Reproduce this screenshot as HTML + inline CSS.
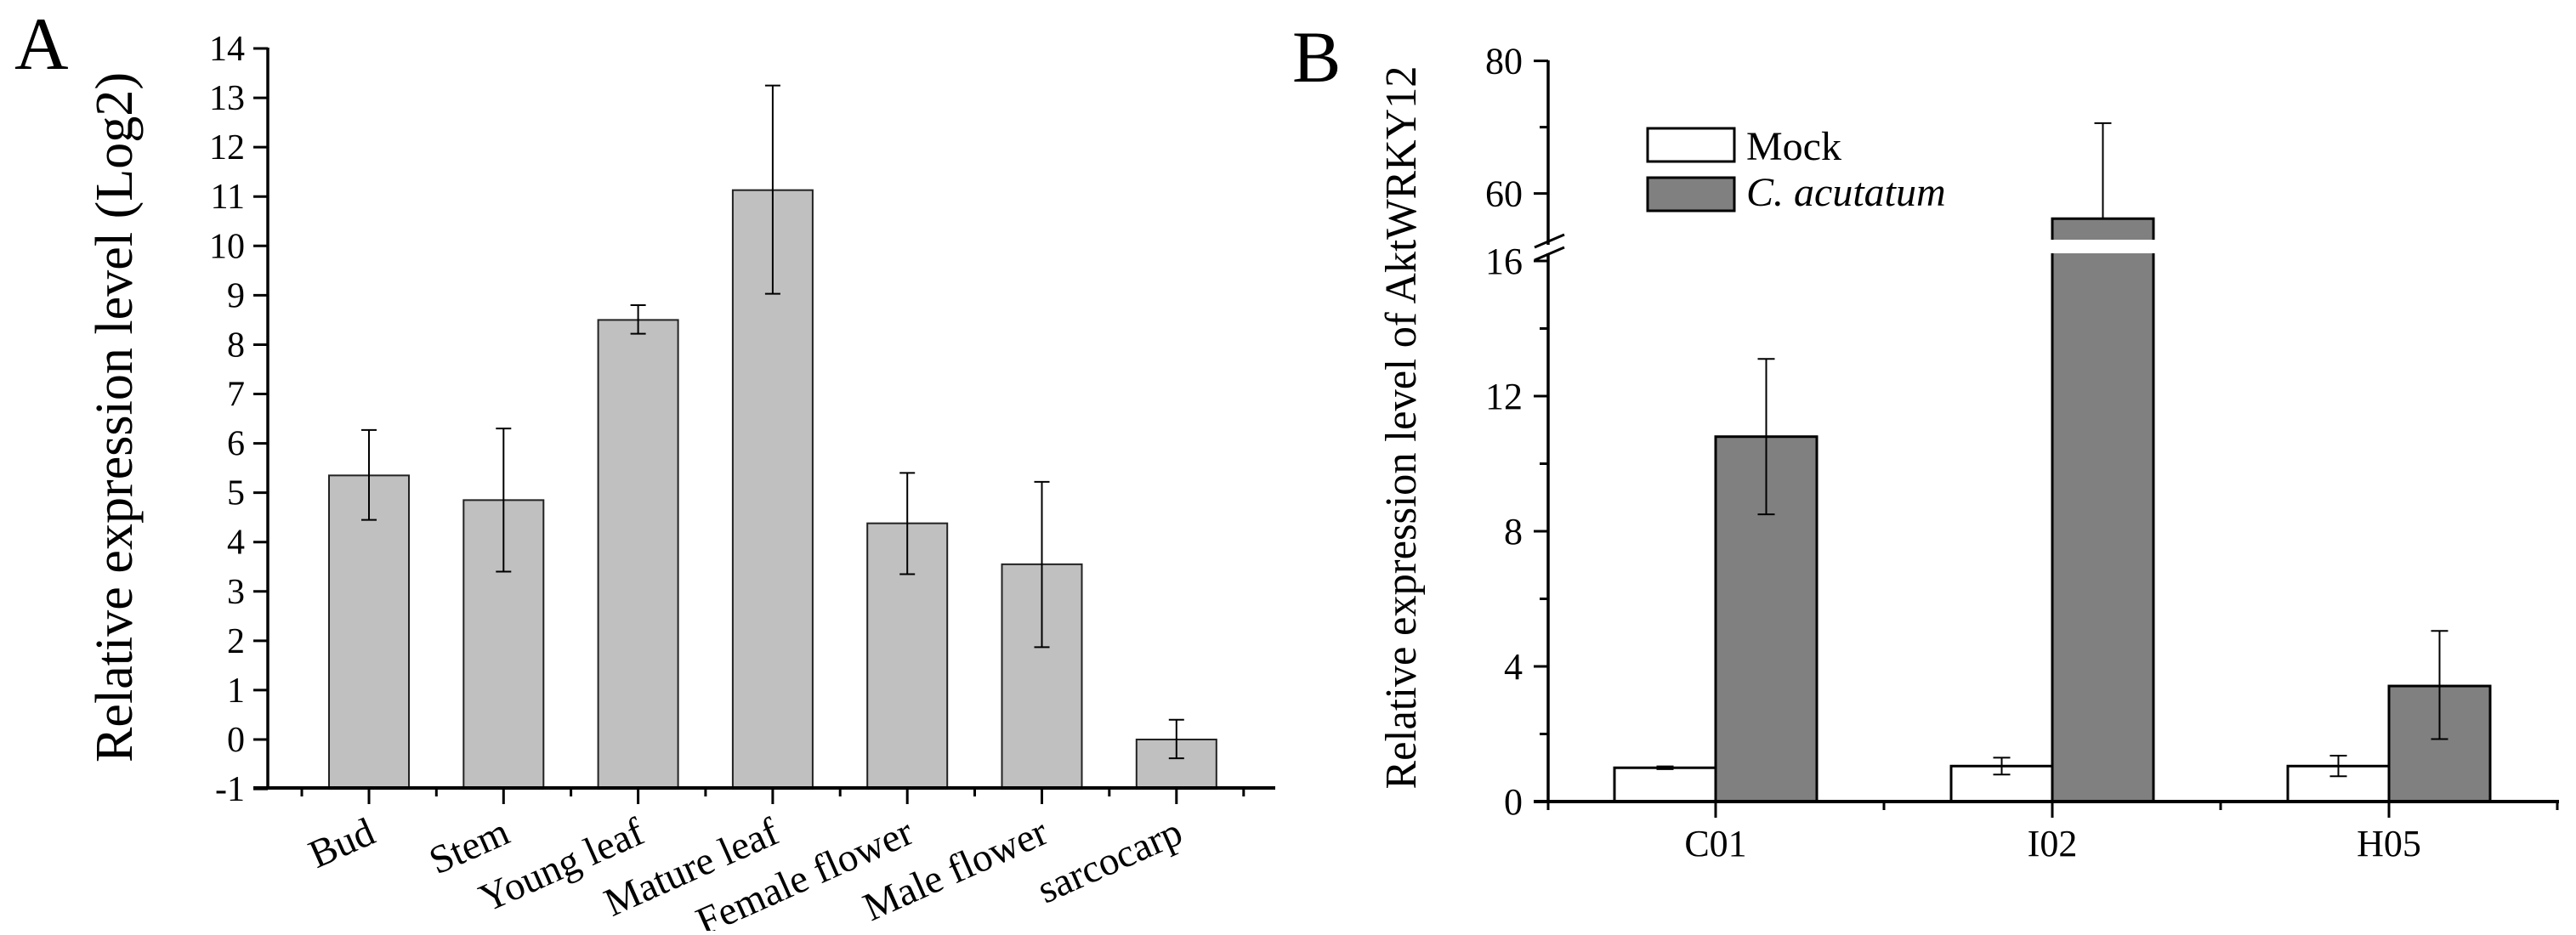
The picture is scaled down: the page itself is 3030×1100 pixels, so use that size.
<!DOCTYPE html>
<html><head><meta charset="utf-8"><style>
html,body{margin:0;padding:0;background:#fff;}
svg, svg text{font-family:"Liberation Serif","Times New Roman",serif !important;}
</style></head><body>
<svg id="fig" width="3030" height="1095" viewBox="0 0 3030 1095" font-family="Liberation Serif, serif">
<rect width="3030" height="1095" fill="#fff"/>
<g id="panelA"></g>
<g id="panelB"></g>
</svg>
<script>
// Panel A data
const catsA = ["Bud","Stem","Young leaf","Mature leaf","Female flower","Male flower","sarcocarp"];
const valsA = [5.35,4.85,8.5,11.13,4.38,3.55,0];
const errLoA = [4.45,3.4,8.22,9.03,3.35,1.87,-0.38];
const errHiA = [6.27,6.3,8.8,13.25,5.4,5.22,0.4];
const ticksA = [-1,0,1,2,3,4,5,6,7,8,9,10,11,12,13,14];
// Panel B data
const catsB = ["C01","I02","H05"];
const mockB = [1.0,1.05,1.05];
const mockLoB = [0.96,0.8,0.75];
const mockHiB = [1.04,1.3,1.36];
const cacB = [10.8,56.2,3.42];
const cacLoB = [8.5,56.2,1.85];
const cacHiB = [13.1,70.6,5.05];
const ticksBLow = [0,4,8,12,16];
const minorBLow = [2,6,10,14];
const ticksBHigh = [60,80];
const minorBHigh = [70];

const NS="http://www.w3.org/2000/svg";
const FF="Liberation Serif, serif";
function mk(parent,tag,attrs,text){const e=document.createElementNS(NS,tag);for(const k in attrs)e.setAttribute(k,attrs[k]);if(tag==='text')e.setAttribute('font-family',FF);if(text!==undefined)e.textContent=text;parent.appendChild(e);return e;}

// ---------- Panel A ----------
const A=document.getElementById('panelA');
const yA=v=>870-(v)*58.07;
const xA=i=>434+i*158.3;
const bwA=94;
let t=mk(A,'text',{x:17,y:81,'font-size':88});


t.textContent='A';
for(const v of ticksA){
  const l=mk(A,'line',{x1:298,x2:315,y1:yA(v),y2:yA(v),stroke:'#000','stroke-width':3});
  
  
  const tx=mk(A,'text',{x:288,y:yA(v)+14,'font-size':42,'text-anchor':'end'},String(v));
  
  
}
for(let i=0;i<catsA.length;i++){
  const x=xA(i);
  const r=mk(A,'rect',{x:x-bwA/2,y:Math.min(yA(valsA[i]),yA(0)),width:bwA,height:Math.abs(yA(-1)-yA(valsA[i])),fill:'#c0c0c0',stroke:'#222','stroke-width':2});
  
  
  const g=mk(A,'g',{stroke:'#000','stroke-width':2});
  
  
  mk(g,'line',{x1:x,x2:x,y1:yA(errLoA[i]),y2:yA(errHiA[i])});
  mk(g,'line',{x1:x-9,x2:x+9,y1:yA(errLoA[i]),y2:yA(errLoA[i])});
  mk(g,'line',{x1:x-9,x2:x+9,y1:yA(errHiA[i]),y2:yA(errHiA[i])});
  const tk=mk(A,'line',{x1:x,x2:x,y1:927,y2:946,stroke:'#000','stroke-width':3});
  
  
  const mt=mk(A,'line',{x1:x-79,x2:x-79,y1:927,y2:937,stroke:'#000','stroke-width':3});
  
  
  const lb=mk(A,'text',{x:x+10,y:990,'font-size':47,'text-anchor':'end',transform:`rotate(-24 ${x+10} 990)`},catsA[i]);
  
  
}
{const x=xA(6)+79;const mt=mk(A,'line',{x1:x,x2:x,y1:927,y2:937,stroke:'#000','stroke-width':3});

}
let ax=mk(A,'line',{x1:315,x2:315,y1:56,y2:928,stroke:'#000','stroke-width':3.5});


ax=mk(A,'line',{x1:298,x2:1500,y1:927,y2:927,stroke:'#000','stroke-width':4});


t=mk(A,'text',{x:0,y:0,'font-size':62,'text-anchor':'middle',textLength:812,lengthAdjust:'spacingAndGlyphs',transform:'translate(155 491) rotate(-90)'},'Relative expression level (Log2)');



// ---------- Panel B ----------
const B=document.getElementById('panelB');
const axX=1821;
const yB=v=> v<=16 ? 943-v*39.75 : 290-(v-52)*7.8;
const xB=i=>2018+i*396;
const bwB=119;
t=mk(B,'text',{x:1520,y:96,'font-size':86},'B');


for(const v of ticksBLow.concat(ticksBHigh)){
  const l=mk(B,'line',{x1:axX-17,x2:axX,y1:yB(v),y2:yB(v),stroke:'#000','stroke-width':3});
  
  
  const tx=mk(B,'text',{x:1791,y:yB(v)+15,'font-size':44,'text-anchor':'end'},String(v));
  
  
}
for(const v of minorBLow.concat(minorBHigh)){
  const l=mk(B,'line',{x1:axX-10,x2:axX,y1:yB(v),y2:yB(v),stroke:'#000','stroke-width':3});
  
  
}
for(let i=0;i<catsB.length;i++){
  const x=xB(i);
  let r=mk(B,'rect',{x:x-bwB,y:yB(mockB[i]),width:bwB,height:yB(0)-yB(mockB[i]),fill:'#fff',stroke:'#000','stroke-width':3});
  
  
  r=mk(B,'rect',{x:x,y:yB(cacB[i]),width:bwB,height:yB(0)-yB(cacB[i]),fill:'#808080',stroke:'#000','stroke-width':3});
  
  
  if(cacB[i]>16){
    const gp=mk(B,'rect',{x:x-4,y:282,width:bwB+8,height:16,fill:'#fff'});
    
    
  }
  const pairs=[[x-bwB/2,mockLoB[i],mockHiB[i]],[x+bwB/2,cacLoB[i],cacHiB[i]]];
  for(const [ex,lo,hi] of pairs){
    const g=mk(B,'g',{stroke:'#000','stroke-width':2});
    
    
    mk(g,'line',{x1:ex,x2:ex,y1:yB(lo),y2:yB(hi)});
    mk(g,'line',{x1:ex-10,x2:ex+10,y1:yB(lo),y2:yB(lo)});
    mk(g,'line',{x1:ex-10,x2:ex+10,y1:yB(hi),y2:yB(hi)});
  }
  const tk=mk(B,'line',{x1:x,x2:x,y1:943,y2:962,stroke:'#000','stroke-width':3});
  
  
  const mt=mk(B,'line',{x1:x+198,x2:x+198,y1:943,y2:953,stroke:'#000','stroke-width':3});
  
  
  const lb=mk(B,'text',{x:x,y:1007,'font-size':44,'text-anchor':'middle'},catsB[i]);
  
  
}
{const mt=mk(B,'line',{x1:axX,x2:axX,y1:943,y2:953,stroke:'#000','stroke-width':3});

}
ax=mk(B,'line',{x1:axX,x2:axX,y1:71,y2:944,stroke:'#000','stroke-width':3.5});


ax=mk(B,'line',{x1:1804,x2:3010,y1:943,y2:943,stroke:'#000','stroke-width':4});


const brk=mk(B,'g',{stroke:'#000','stroke-width':3});


mk(brk,'rect',{x:axX-3,y:288,width:6,height:10,fill:'#fff',stroke:'none'});
mk(brk,'line',{x1:1805,x2:1840,y1:291,y2:276});
mk(brk,'line',{x1:1805,x2:1840,y1:306,y2:291});
t=mk(B,'text',{x:0,y:0,'font-size':52,'text-anchor':'middle',textLength:851,lengthAdjust:'spacingAndGlyphs',transform:'translate(1665 503) rotate(-90)'},'Relative expression level of AktWRKY12');


// legend
const lg=mk(B,'g',{});


let sw=mk(lg,'rect',{x:1938,y:151,width:102,height:39,fill:'#fff',stroke:'#000','stroke-width':3});


sw=mk(lg,'rect',{x:1938,y:209,width:102,height:39,fill:'#808080',stroke:'#000','stroke-width':3});


t=mk(lg,'text',{x:2054,y:188,'font-size':48},'Mock');


t=mk(lg,'text',{x:2054,y:242,'font-size':48,'font-style':'italic'},'C. acutatum');


</script>
</body></html>
